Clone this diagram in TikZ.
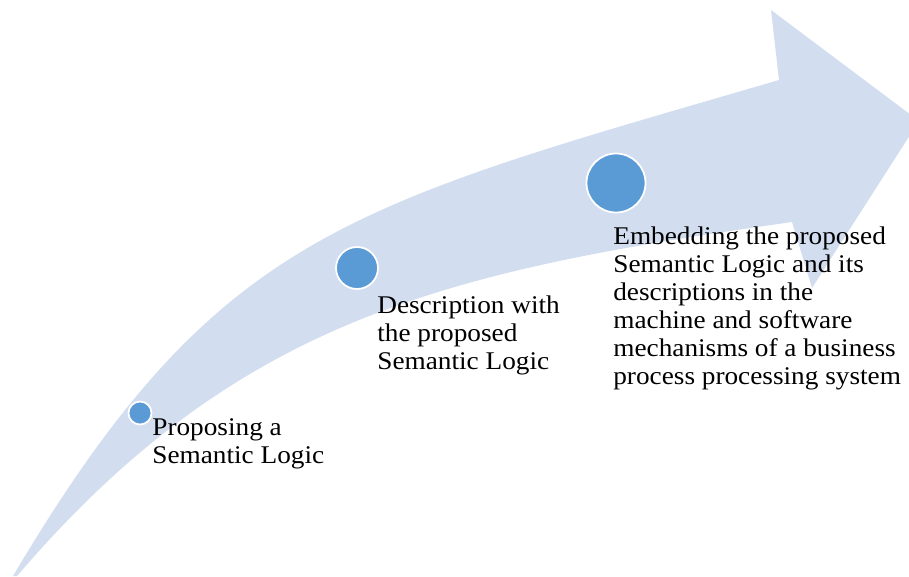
\documentclass[tikz,border=0pt]{standalone}
\usepackage{fontspec}
\setmainfont{Liberation Serif}[FakeStretch=1.07]
\definecolor{bandblue}{HTML}{D2DEEF}
\definecolor{dotblue}{HTML}{5B9BD5}
\begin{document}
\begin{tikzpicture}[x=0.02cm, y=-0.02cm,
		dot/.style={circle, fill=dotblue, draw=white, line width=1pt, inner sep=0pt},
		steptext/.style={anchor=north west, inner sep=0pt, align=left,
			font=\fontsize{14.5pt}{16pt}\selectfont}]
	\useasboundingbox (0,0) rectangle (909,576);
	\clip (0,0) rectangle (909,576);
	\fill[bandblue] (13,576) .. controls (217,232) and (347,206) .. (779,80)
		-- (771,10) -- (919,121) -- (812,288) -- (792,222)
		.. controls (446,271) and (238,318) .. (17,576) -- cycle;
	\draw node[dot, minimum size=0.46cm] (d1) at (140,413) {};
	\draw node[dot, minimum size=0.84cm] (d2) at (357,268) {};
	\draw node[dot, minimum size=1.18cm] (d3) at (616,183) {};
	\draw node[steptext] (t1) at (152,418) {Proposing a\\Semantic Logic};
	\draw node[steptext] (t2) at (377,295) {Description with\\the proposed\\Semantic Logic};
	\draw node[steptext] (t3) at (613,226) {Embedding the proposed\\Semantic Logic and its\\descriptions in the\\machine and software\\mechanisms of a business\\process processing system};
\end{tikzpicture}
\end{document}
